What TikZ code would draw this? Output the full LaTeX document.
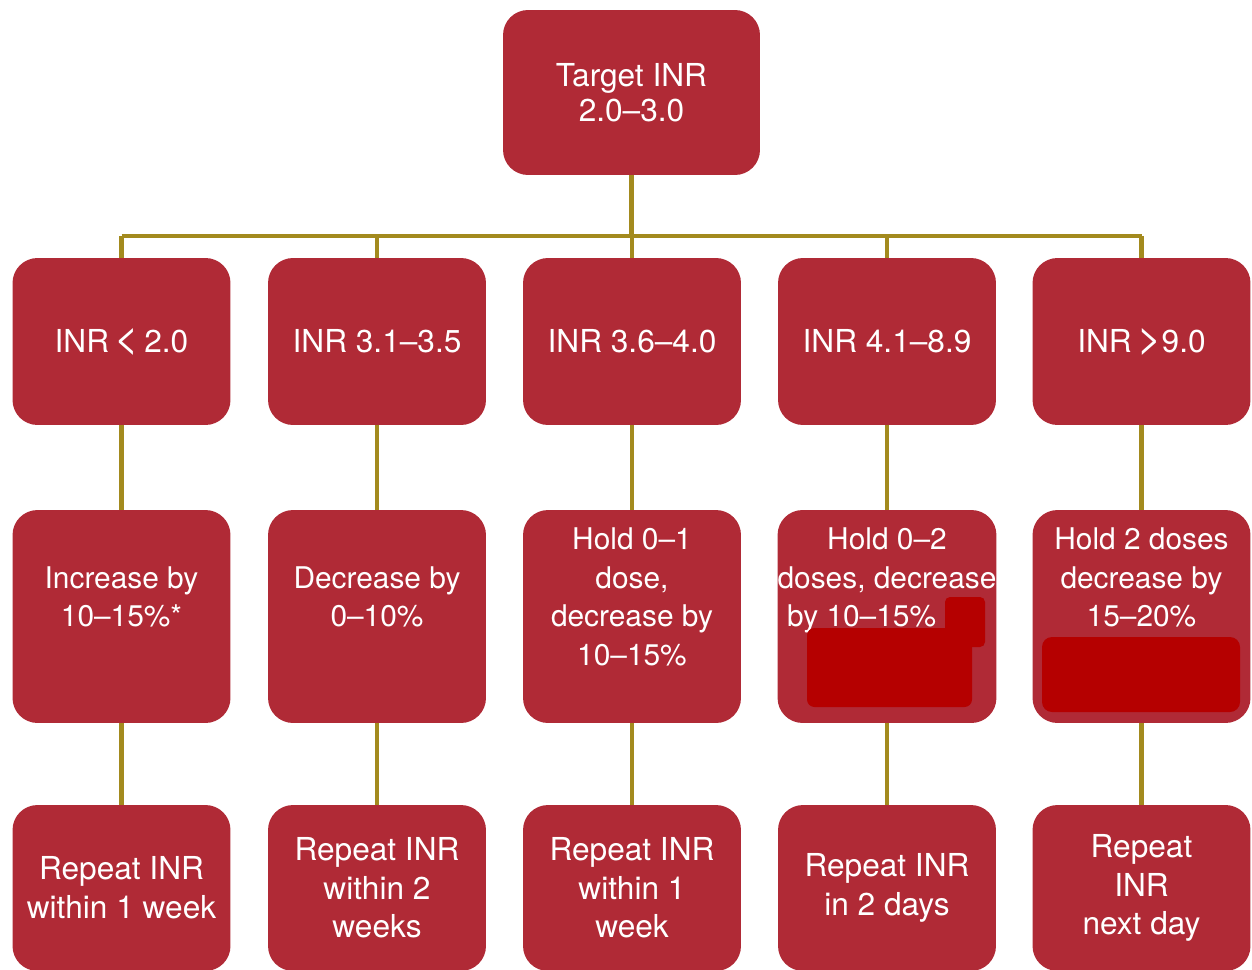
\documentclass[tikz,border=0pt]{standalone}
\usepackage{fontspec}
\setmainfont{TeX Gyre Heros}
\definecolor{boxred}{RGB}{176,42,54}
\definecolor{wiregold}{RGB}{163,138,30}
\definecolor{blot}{RGB}{181,0,0}
\newcommand{\lifted}[1]{\raisebox{0.18cm}[0pt][0pt]{\begin{tabular}{@{}c@{}}#1\end{tabular}}}

\begin{document}
\begin{tikzpicture}[x=0.02cm, y=-0.02cm,
    box/.style={fill=boxred, rounded corners=0.5cm, text=white, inner sep=0pt,
        minimum width=4.36cm, font=\fontsize{18}{22}\selectfont},
    stack/.style={box, align=center},
    link/.style={draw=wiregold, line width=2.3pt}]
    \useasboundingbox (0,0) rectangle (1252,970);
    \node (target) [stack, minimum width=5.14cm, minimum height=3.3cm,
        font=\fontsize{18}{20}\selectfont] at (631.5,92.5) {Target INR\\2.0--3.0};

    \node (range1) [stack, minimum height=3.34cm] at (121.5,341.5)
        {INR\thinspace{\fontsize{24}{22}\selectfont<}\thinspace2.0};
    \node (range2) [stack, minimum height=3.34cm] at (377,341.5) {INR 3.1--3.5};
    \node (range3) [stack, minimum height=3.34cm] at (632,341.5) {INR 3.6--4.0};
    \node (range4) [stack, minimum height=3.34cm] at (887,341.5) {INR 4.1--8.9};
    \node (range5) [stack, minimum height=3.34cm] at (1141.5,341.5)
        {INR\thinspace{\fontsize{24}{22}\selectfont>}9.0};

    \node (dose1) [box, minimum height=4.26cm, font=\fontsize{17}{22}\selectfont] at (121.5,616.5)
        {\lifted{Increase by\\10--15\%*}};
    \node (dose2) [box, minimum height=4.26cm, font=\fontsize{17}{22}\selectfont] at (377,616.5)
        {\lifted{Decrease by\\0--10\%}};
    \node (dose3) [box, minimum height=4.26cm, font=\fontsize{17}{22}\selectfont] at (632,616.5)
        {\lifted{Hold 0--1\\dose,\\decrease by\\10--15\%}};
    \node (dose4) [box, minimum height=4.26cm, font=\fontsize{17}{22}\selectfont] at (887,616.5)
        {\lifted{Hold 0--2\\doses, decrease\\by 10--15\%\hspace*{1.7em}\\\mbox{}}};
    \node (dose5) [box, minimum height=4.26cm, font=\fontsize{17}{22}\selectfont] at (1141.5,616.5)
        {\lifted{Hold 2 doses\\decrease by\\15--20\%\\\mbox{}}};

    \node (recheck1) [stack, minimum height=3.32cm] at (121.5,888) {Repeat INR\\within 1 week};
    \node (recheck2) [stack, minimum height=3.32cm] at (377,888) {Repeat INR\\within 2\\weeks};
    \node (recheck3) [stack, minimum height=3.32cm] at (632,888) {Repeat INR\\within 1\\week};
    \node (recheck4) [stack, minimum height=3.32cm] at (887,888) {Repeat INR\\in 2 days};
    \node (recheck5) [stack, minimum height=3.32cm] at (1141.5,888) {Repeat\\INR\\next day};

    \fill[blot, rounded corners=0.15cm] (807,628) rectangle (972,707);
    \fill[blot, rounded corners=0.1cm] (945,597) rectangle (985,647);
    \fill[blot, rounded corners=0.2cm] (1042,637) rectangle (1240,712);

    \coordinate (bus) at (631.5,236);
    \draw[link] (target.south) -- (target.south |- bus);
    \draw[link] (range1.north |- bus) -- (range5.north |- bus);
    \foreach \i in {1,...,5} {
        \draw[link] (range\i.north |- bus) -- (range\i.north);
        \draw[link] (range\i) -- (dose\i);
        \draw[link] (dose\i) -- (recheck\i);
    }
\end{tikzpicture}
\end{document}
